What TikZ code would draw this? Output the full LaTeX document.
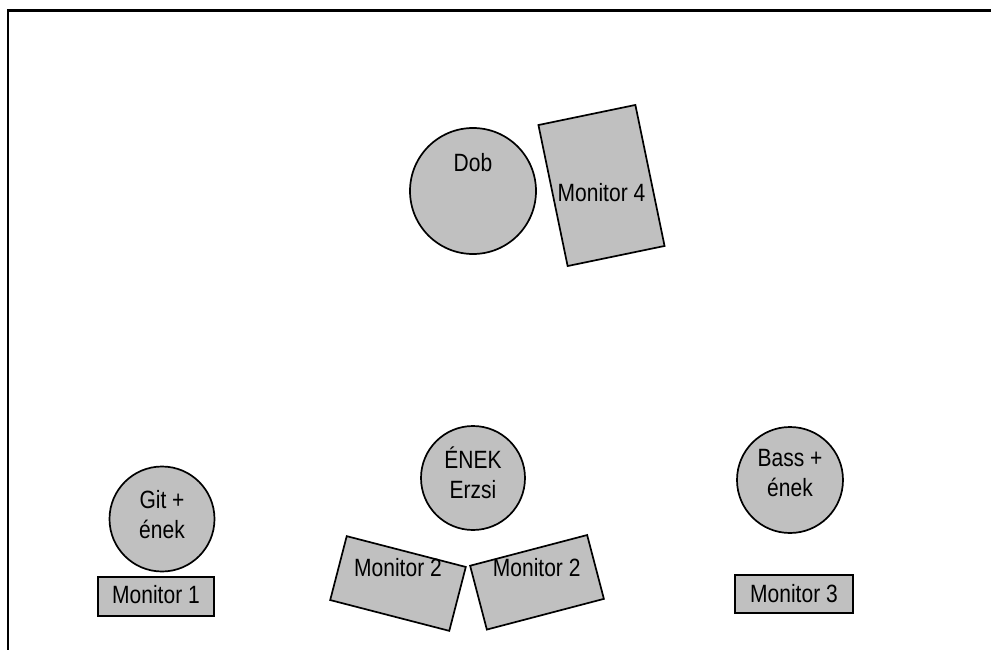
\documentclass[tikz,border=0pt]{standalone}
\usepackage{fontspec}
\setmainfont[FakeStretch=0.84]{Liberation Sans}
\definecolor{shapegray}{RGB}{192,192,192}
\begin{document}
\begin{tikzpicture}[x=1pt,y=-1pt,
  shp/.style={draw=black, line width=1.7pt, fill=shapegray, inner sep=0pt},
  circ/.style={shp, circle},
  rbox/.style={shp, rectangle},
  txt/.style={font=\fontsize{25}{29.5}\selectfont, align=center, anchor=base, inner sep=0pt}]
\useasboundingbox (0,0) rectangle (991,650);
\draw[line width=2.6pt] (8,650) -- (8,10.5) -- (991,10.5);
% Dob
\node[circ, minimum size=126] (dob) at (473,191) {};
\node[txt] (dobt) at (473,171.7) {Dob};
% Monitor 4
\node[rbox, minimum width=99, minimum height=144, rotate=11.7] (m4) at (601.5,185.5) {};
\node[txt] (m4t) at (601.5,201.7) {Monitor 4};
% Git + ének
\node[circ, minimum size=105] (git) at (162,519) {};
\node[txt] (gitt) at (162,538) {Git +\\ének};
\node[rbox, minimum width=116, minimum height=39] (m1) at (156,596.5) {};
\node[txt] (m1t) at (156,603) {Monitor 1};
% ÉNEK Erzsi
\node[circ, minimum size=104] (enek) at (473,478) {};
\node[txt] (enekt) at (473,498) {ÉNEK\\Erzsi};
\node[rbox, minimum width=123, minimum height=66, rotate=-14.5] (m2a) at (398,583.5) {};
\node[txt] (m2at) at (398,576.5) {Monitor 2};
\node[rbox, minimum width=121, minimum height=66, rotate=14.7] (m2b) at (537,582.3) {};
\node[txt] (m2bt) at (536.7,576) {Monitor 2};
% Bass + ének
\node[circ, minimum size=106] (bass) at (790,480) {};
\node[txt] (basst) at (790,496) {Bass +\\ének};
\node[rbox, minimum width=118, minimum height=38] (m3) at (794,594) {};
\node[txt] (m3t) at (794,602.7) {Monitor 3};
\end{tikzpicture}
\end{document}
